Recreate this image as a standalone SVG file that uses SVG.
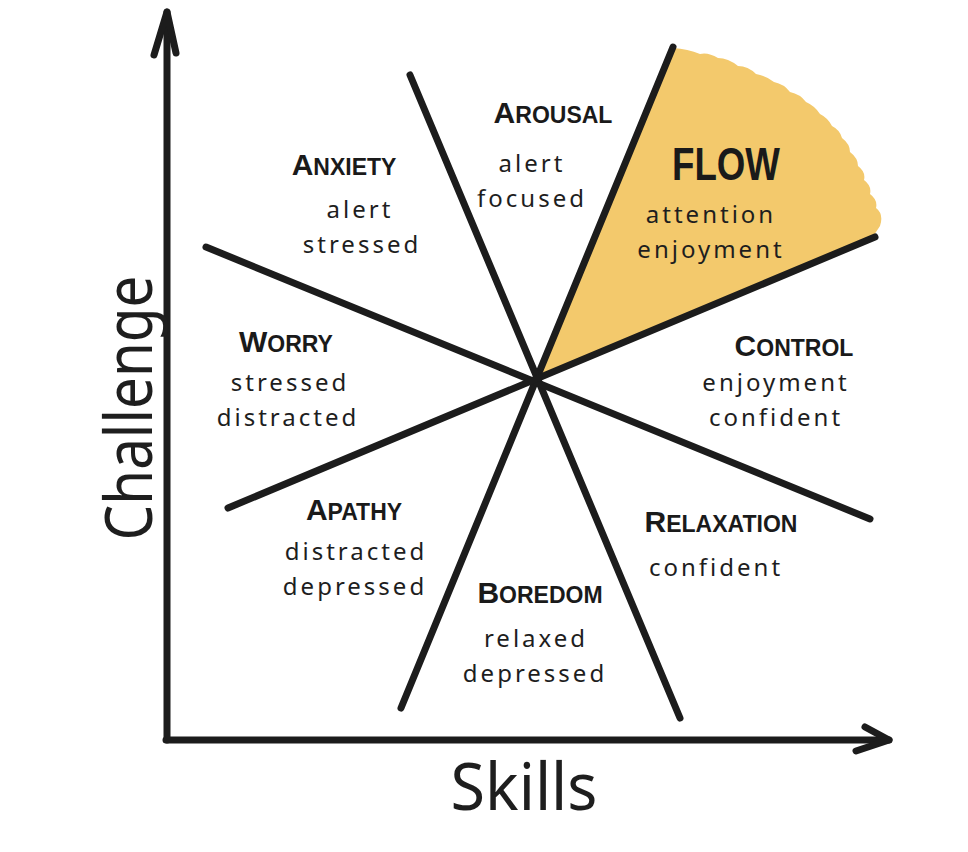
<svg xmlns="http://www.w3.org/2000/svg" width="968" height="852" viewBox="0 0 968 852">
<style>
.ln{stroke:#1c1c1c;stroke-width:7;stroke-linecap:round;fill:none}
.ax{stroke:#1c1c1c;stroke-width:7;stroke-linecap:round;stroke-linejoin:round;fill:none}
.t{font-family:"Liberation Sans",Arial,sans-serif;font-weight:bold;fill:#1a1a1a;text-anchor:middle;font-size:30px}
.t tspan{font-size:23px}
.b{font-family:"Noto Sans","DejaVu Sans",sans-serif;fill:#1e1e1e;text-anchor:middle;font-size:24px;letter-spacing:3px}
.big{font-family:"Noto Sans","DejaVu Sans",sans-serif;fill:#1e1e1e;font-size:66px;text-anchor:middle}
</style>
<rect width="968" height="852" fill="#ffffff"/>
<g id="flow-area">
<path d="M538,377 L673,48 Q688,49 700,54 Q708,52 718,58 Q728,58 738,66 Q748,66 756,74 Q766,76 774,82 Q784,84 790,92 Q800,94 806,102 Q815,106 820,114 Q828,118 832,126 Q840,130 842,138 Q850,144 850,152 Q858,158 858,166 Q866,172 864,180 Q872,186 870,194 Q878,200 876,208 Q884,214 880,226 L872,238 Z" fill="#F3C96C"/>
</g>
<g id="connectors">
<line class="ln" x1="673" y1="47" x2="401" y2="708"/>
<line class="ln" x1="410" y1="75" x2="680" y2="718"/>
<line class="ln" x1="206" y1="247" x2="870" y2="519"/>
<line class="ln" x1="228" y1="508" x2="875" y2="237"/>
<polyline class="ax" points="167,740 167,12"/>
<polyline class="ax" points="154,55 167,12 176,53"/>
<polyline class="ax" points="166,740 889,740"/>
<polyline class="ax" points="865,727 889,740 856,751"/>
</g>
<g id="axis-challenge"><text class="big" transform="translate(152,408) rotate(-90)" textLength="265" lengthAdjust="spacingAndGlyphs">Challenge</text></g>
<g id="axis-skills"><text class="big" x="524" y="810" textLength="147" lengthAdjust="spacingAndGlyphs">Skills</text></g>
<g id="anxiety"><text class="t" x="344" y="175">A<tspan>NXIETY</tspan></text><text class="b" x="360" y="218">alert</text><text class="b" x="362" y="253">stressed</text></g>
<g id="arousal"><text class="t" x="553" y="123">A<tspan>ROUSAL</tspan></text><text class="b" x="532" y="172">alert</text><text class="b" x="532" y="207">focused</text></g>
<g id="flow"><text class="t" x="726" y="180" style="font-size:46px" textLength="108" lengthAdjust="spacingAndGlyphs">FLOW</text><text class="b" x="711" y="223">attention</text><text class="b" x="711" y="258">enjoyment</text></g>
<g id="worry"><text class="t" x="286" y="352">W<tspan>ORRY</tspan></text><text class="b" x="290" y="391">stressed</text><text class="b" x="288" y="426">distracted</text></g>
<g id="control"><text class="t" x="794" y="356">C<tspan>ONTROL</tspan></text><text class="b" x="776" y="391">enjoyment</text><text class="b" x="776" y="426">confident</text></g>
<g id="apathy"><text class="t" x="354" y="520">A<tspan>PATHY</tspan></text><text class="b" x="356" y="560">distracted</text><text class="b" x="355" y="595">depressed</text></g>
<g id="boredom"><text class="t" x="540" y="603">B<tspan>OREDOM</tspan></text><text class="b" x="536" y="647">relaxed</text><text class="b" x="535" y="682">depressed</text></g>
<g id="relaxation"><text class="t" x="721" y="532">R<tspan>ELAXATION</tspan></text><text class="b" x="716" y="576">confident</text></g>
</svg>
